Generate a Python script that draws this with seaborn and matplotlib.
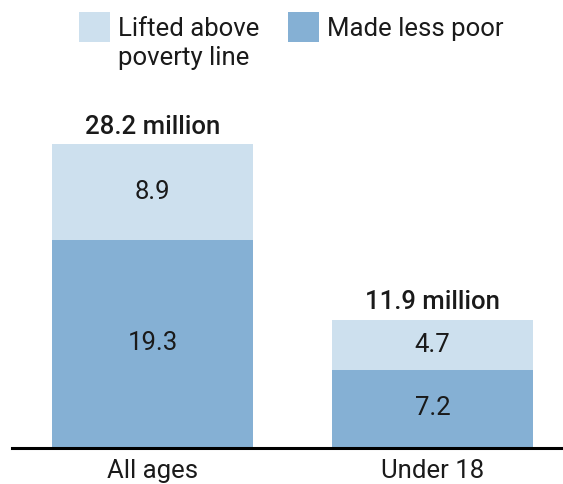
import matplotlib
matplotlib.use("Agg")
import matplotlib.pyplot as plt
from matplotlib.patches import Rectangle
import seaborn as sns
import pandas as pd

# Data (millions of people)
groups = ["All ages", "Under 18"]
made_less_poor = [19.3, 7.2]
lifted_above = [8.9, 4.7]
totals = [28.2, 11.9]
legend_labels = ["Lifted above\npoverty line", "Made less poor"]

light = "#cde0ee"
dark = "#85b0d4"
ink = "#1a1a1a"

sns.set_theme(style="white")
plt.rcParams["font.family"] = ["Roboto", "DejaVu Sans"]

W, H = 563, 484
fig = plt.figure(figsize=(W / 100, H / 100), dpi=100)
# axes spanning from the baseline (y=448px) to the top of the figure
ax = fig.add_axes([12 / W, (H - 448) / H, 1 - 12 / W, 448 / H])

df = pd.DataFrame({"group": groups, "total": totals, "base": made_less_poor,
                   "top": lifted_above})

# stacked bars: full total in light, lower segment in dark on top
sns.barplot(data=df, x="group", y="total", color=light, width=0.718,
            saturation=1, ax=ax, linewidth=0)
sns.barplot(data=df, x="group", y="base", color=dark, width=0.718,
            saturation=1, ax=ax, linewidth=0)

px_per_unit = 304 / 28.2
ax.set_ylim(0, 448 / px_per_unit)
ax.set_xlim(-0.502, 1.466)

fs = 18.5
for i in range(len(groups)):
    ax.annotate(f"{made_less_poor[i]:.1f}", (i, made_less_poor[i] / 2),
                xytext=(0, 2.5), textcoords="offset points", ha="center",
                va="center_baseline", fontsize=fs, color=ink)
    ax.annotate(f"{lifted_above[i]:.1f}", (i, made_less_poor[i] + lifted_above[i] / 2),
                xytext=(0, 1.5), textcoords="offset points", ha="center",
                va="center_baseline", fontsize=fs, color=ink)
    ax.annotate(f"{totals[i]:.1f} million", (i, totals[i]), xytext=(0, 7.5),
                textcoords="offset points", ha="center", va="baseline",
                fontsize=fs, color=ink, fontweight="medium")

ax.set_xlabel("")
ax.set_ylabel("")
ax.set_yticks([])
ax.tick_params(axis="x", length=0, pad=8, labelsize=fs, labelcolor=ink)
for s in ["top", "right", "left"]:
    ax.spines[s].set_visible(False)
ax.spines["bottom"].set_color("black")
ax.spines["bottom"].set_linewidth(2.2)

# legend: square swatches with labels aligned to the first text line
for (x0, col, lab) in [(79, light, legend_labels[0]), (288, dark, legend_labels[1])]:
    fig.patches.append(Rectangle((x0 / W, (H - 42) / H), 31 / W, 30 / H,
                                 transform=fig.transFigure, color=col, lw=0))
    fig.text((x0 + 39) / W, (H - 17) / H, lab, ha="left", va="top",
             fontsize=fs, color=ink, linespacing=1.27)

fig.savefig("out.png", dpi=100)
